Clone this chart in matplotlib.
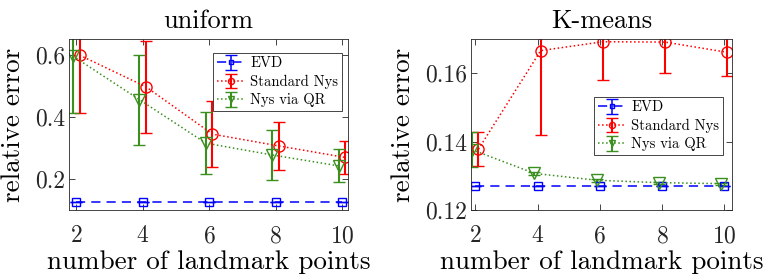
import numpy as np
import matplotlib
matplotlib.use("Agg")
import matplotlib.pyplot as plt

plt.rcParams['font.family'] = ['cmr10', 'DejaVu Serif']
plt.rcParams['mathtext.fontset'] = 'cm'
plt.rcParams['axes.formatter.use_mathtext'] = True

# number of landmark points
k = np.array([2, 4, 6, 8, 10])

# uniform sampling
uni_evd = [0.127, 0.127, 0.127, 0.127, 0.127]
uni_evd_err = [0.0, 0.0, 0.0, 0.0, 0.0]
uni_std = [0.598, 0.496, 0.344, 0.306, 0.269]
uni_std_err = [0.186, 0.149, 0.106, 0.077, 0.053]
uni_qr = [0.595, 0.455, 0.315, 0.277, 0.242]
uni_qr_err = [0.183, 0.145, 0.099, 0.079, 0.053]

# K-means sampling
km_evd = [0.127, 0.127, 0.127, 0.127, 0.127]
km_evd_err = [0.0, 0.0, 0.0, 0.0, 0.0]
km_std = [0.1378, 0.1666, 0.1692, 0.1691, 0.1661]
km_std_err = [0.0050, 0.0247, 0.0112, 0.0089, 0.0069]
km_qr = [0.1376, 0.1307, 0.1287, 0.1280, 0.1277]
km_qr_err = [0.0051, 0.0005, 0.0004, 0.0003, 0.0003]

blue = '#0000ff'
red = '#ff0000'
green = '#3a8f1f'
dark = '#262626'

fig = plt.figure(figsize=(7.68, 2.8), dpi=100)
ax1 = fig.add_axes([69 / 768, 1 - 210 / 280, 279 / 768, 171 / 280])
ax2 = fig.add_axes([471 / 768, 1 - 210 / 280, 261 / 768, 171 / 280])


def draw(ax, evd, evd_e, std, std_e, qr, qr_e, title, ylim, yticks, xlim,
         legpos):
    ax.errorbar(k, evd, yerr=evd_e, color=blue, ls=(0, (6, 4)), lw=1.1,
                marker='s', ms=5.5, mfc='none', mew=1.0, capsize=4,
                label='EVD')
    ax.errorbar(k + 0.1, std, yerr=std_e, color=red, ls=':', lw=1.1,
                marker='o', ms=8, mfc='none', mew=1.0, capsize=4.5,
                elinewidth=1.5, label='Standard Nys')
    ax.errorbar(k - 0.1, qr, yerr=qr_e, color=green, ls=':', lw=1.1,
                marker='v', ms=8.5, mfc='none', mew=1.0, capsize=4.5,
                elinewidth=1.5, label='Nys via QR')
    ax.set_xlim(*xlim)
    ax.set_ylim(*ylim)
    ax.set_xticks(k)
    ax.set_yticks(yticks)
    ax.set_yticklabels(['%g' % t for t in yticks])
    ax.tick_params(labelsize=17, direction='in', length=4, width=0.6,
                   colors=dark, top=True, right=True, pad=3)
    ax.tick_params(axis='x', pad=11)
    for sp in ax.spines.values():
        sp.set_color(dark)
        sp.set_linewidth(0.6)
    ax.set_title(title, fontsize=19, pad=8)
    ax.set_xlabel('number of landmark points', fontsize=19.5, labelpad=2)
    ax.set_ylabel('relative error', fontsize=19.5, labelpad=7)
    leg = ax.legend(loc='upper right', bbox_to_anchor=legpos,
                    bbox_transform=fig.transFigure, fontsize=10.5,
                    fancybox=False, framealpha=1, edgecolor=dark,
                    borderpad=0.25, labelspacing=0.3, handlelength=1.9,
                    handletextpad=0.4, borderaxespad=0, markerscale=0.55)
    leg.get_frame().set_linewidth(0.6)


draw(ax1, uni_evd, uni_evd_err, uni_std, uni_std_err, uni_qr, uni_qr_err,
     'uniform', (0.1, 0.65), [0.2, 0.4, 0.6], (1.78, 10.18),
     (342 / 768, 1 - 53 / 280))
draw(ax2, km_evd, km_evd_err, km_std, km_std_err, km_qr, km_qr_err,
     'K-means', (0.12, 0.17), [0.12, 0.14, 0.16], (1.86, 10.25),
     (723 / 768, 1 - 97 / 280))

fig.savefig('out.png', dpi=100)
